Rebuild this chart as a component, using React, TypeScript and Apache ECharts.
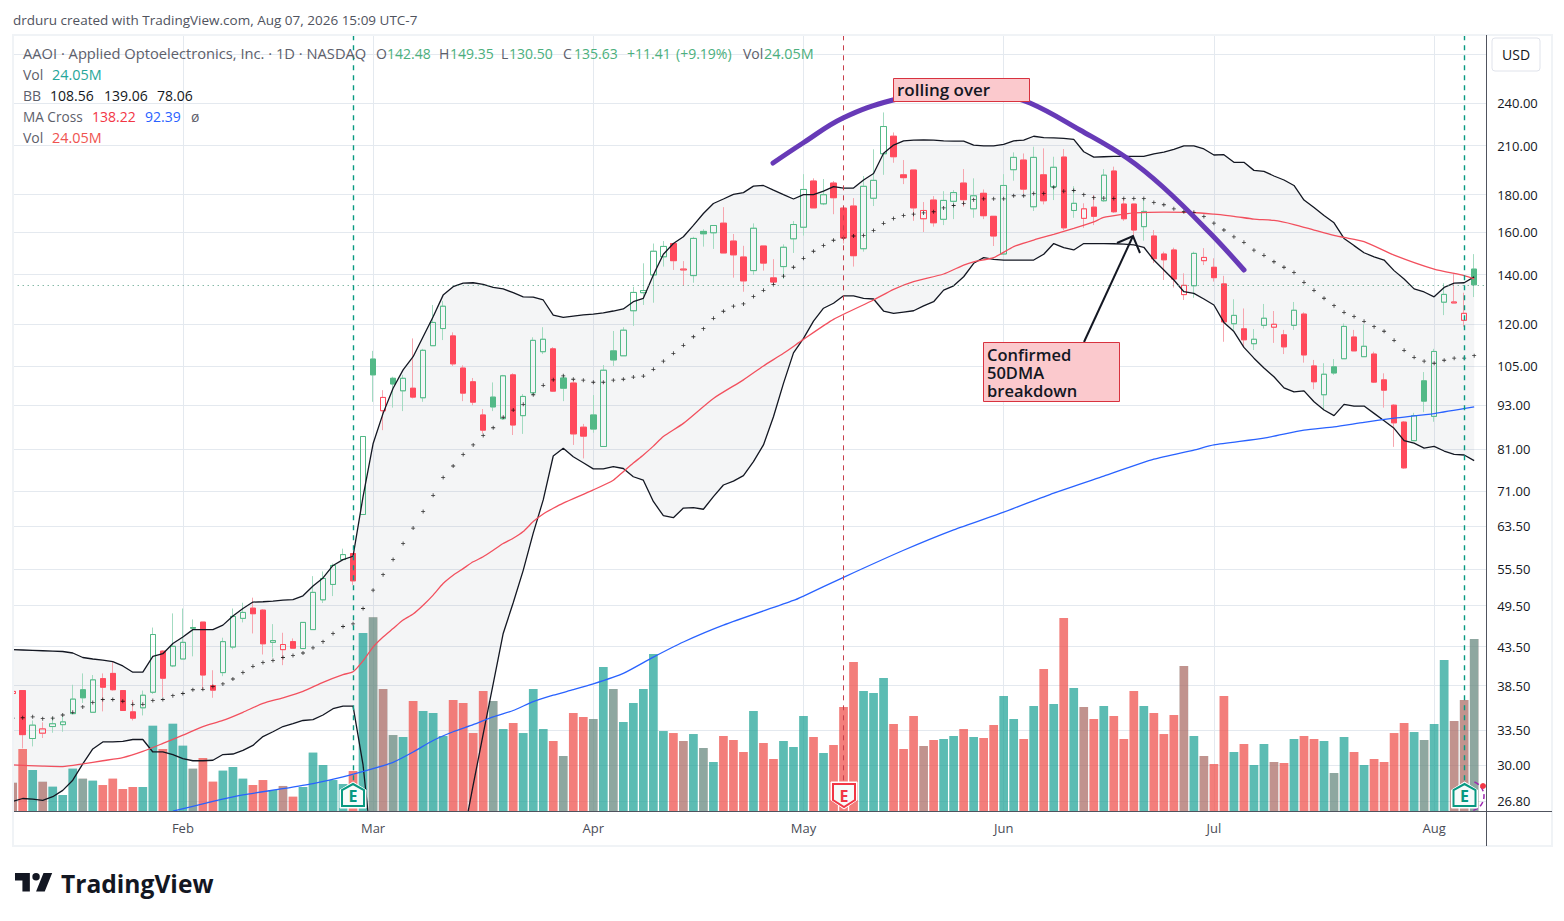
import React, { useEffect, useRef } from "react";
import * as echarts from "echarts";

const monthIdx = [17, 36, 58, 79, 99, 120, 142];
const monthNames = ["Feb", "Mar", "Apr", "May", "Jun", "Jul", "Aug"];
const priceTicks = [240, 210, 180, 160, 140, 120, 105, 93, 81, 71, 63.5, 55.5, 49.5, 43.5, 38.5, 33.5, 30, 26.8];
const hiddenGrid = [280];
const lastClose = 135.63;
const firstPrevClose = 38.5;
const earningsIdx = [34, 83, 145];

const opens = [37.55,37.9,32.6,33.15,33.85,34.05,35.25,38.0,35.4,39.35,40.0,37.9,35.45,35.9,37.7,42.9,40.95,41.85,46.2,47.0,38.5,40.1,43.45,47.55,49.1,48.8,44.1,43.1,44.2,43.25,45.9,50.4,52.9,57.2,58.3,65.9,107.4,91.3,101.1,97.2,98.0,95.1,112.0,118.2,115.5,104.4,100.0,90.1,95.3,89.05,102.2,89.9,96.6,109.9,110.9,101.2,99.6,86.7,90.1,81.6,110.2,108.5,125.0,132.3,139.9,148.1,154.4,142.1,139.6,160.4,159.7,164.6,155.6,148.0,141.8,153.2,138.6,143.6,156.7,162.5,187.9,174.9,186.7,172.6,173.7,151.9,178.0,204.7,216.3,191.6,194.5,166.9,177.0,166.6,176.3,186.7,172.2,180.8,168.2,149.4,194.7,200.7,173.3,191.6,184.5,202.6,171.3,167.1,173.1,176.6,193.9,174.8,174.8,162.8,158.1,149.4,151.3,131.5,135.2,146.3,143.3,136.0,120.0,118.1,112.7,119.4,118.7,115.9,119.4,123.7,105.1,96.0,104.8,107.5,115.1,108.2,109.1,100.6,92.9,88.1,83.1,100.3,89.7,128.4,128.1,121.3,142.48];
const closes = [37.8,33.0,34.0,33.6,34.15,34.35,36.9,37.05,39.2,38.3,38.0,35.6,34.75,37.35,45.2,39.4,43.55,44.1,46.1,39.8,37.95,44.2,47.85,48.45,48.25,43.9,44.35,43.8,43.3,46.95,51.6,53.9,56.15,58.1,53.5,84.2,102.2,95.2,99.3,101.1,95.3,110.4,120.5,126.8,105.8,96.5,93.8,85.9,92.4,101.9,87.3,95.5,113.9,114.3,97.1,98.0,84.9,84.3,86.2,103.7,107.1,117.6,132.4,133.2,150.7,153.0,146.3,142.5,156.9,159.2,163.4,149.9,149.0,137.3,162.0,145.2,136.8,152.6,163.9,183.0,172.7,180.0,178.3,157.1,148.6,184.8,188.3,223.0,202.8,189.9,172.7,171.3,164.8,176.8,181.2,177.2,179.4,168.5,158.1,185.3,202.4,183.2,202.4,176.6,196.2,162.2,175.2,172.2,168.2,191.4,170.6,166.9,161.1,170.8,147.2,146.7,138.1,135.4,149.7,147.8,138.7,120.7,123.2,114.1,114.3,122.1,119.8,111.6,125.2,108.8,100.0,102.4,102.8,119.0,110.2,111.8,99.9,97.4,87.9,76.3,89.9,94.1,110.0,131.6,128.5,124.0,135.63];
const lows = [37.2,31.6,31.8,32.65,33.2,33.3,35.25,36.45,35.4,35.5,37.9,35.6,34.5,35.05,37.5,37.15,40.8,41.85,42.2,38.0,37.05,39.65,43.15,46.95,45.35,42.45,42.05,41.05,43.3,43.25,45.9,49.9,51.0,57.2,52.8,65.8,93.9,85.9,92.2,91.2,94.9,93.9,112.0,114.0,105.1,94.1,92.9,85.0,91.2,88.7,84.6,84.9,95.9,109.1,96.9,94.1,82.0,78.6,85.2,81.6,105.1,108.5,119.2,127.3,128.2,143.6,142.1,135.2,136.5,152.9,151.8,149.9,138.7,132.7,139.9,141.8,135.5,138.1,149.9,158.3,172.7,174.2,169.3,154.4,143.6,150.5,173.7,191.6,199.0,186.1,165.8,160.1,162.8,163.6,166.7,173.3,167.4,166.7,153.2,149.0,188.1,180.7,171.0,174.6,177.0,161.1,167.4,162.2,163.6,176.0,170.0,165.8,158.6,155.8,145.2,137.7,134.5,129.3,130.2,144.3,137.0,113.4,117.7,111.7,110.5,118.2,113.0,109.1,117.7,106.2,97.7,91.5,102.2,107.5,110.2,108.2,99.6,92.2,81.5,76.1,83.1,90.9,88.2,123.3,128.1,118.9,130.5];
const highs = [38.0,37.9,34.5,34.3,34.85,34.95,38.6,40.0,39.8,40.0,41.5,37.9,36.8,37.9,46.2,43.0,48.3,49.05,47.4,47.0,40.4,44.75,49.05,49.95,50.75,48.95,46.7,45.45,44.65,46.95,54.3,55.1,56.5,59.2,58.3,84.2,110.2,97.4,101.6,102.2,114.6,110.9,127.3,128.9,116.8,105.3,101.2,91.8,99.8,102.2,102.7,96.2,115.0,118.7,111.5,102.2,100.6,87.6,95.9,105.4,117.3,118.7,134.8,145.1,154.4,155.6,154.4,146.1,157.7,161.5,163.5,173.1,159.1,153.3,164.5,153.2,147.0,154.0,165.7,192.0,189.5,189.1,187.9,172.6,178.1,190.9,207.6,233.1,218.9,200.7,194.5,175.9,179.2,182.0,182.6,195.1,189.5,183.0,168.2,192.0,205.6,204.9,209.3,208.2,202.8,207.8,184.9,175.2,179.8,195.1,196.6,177.9,174.8,177.6,161.1,150.5,152.4,140.6,150.5,152.2,147.4,139.5,129.6,125.9,118.0,127.7,124.9,117.7,128.5,124.4,107.1,106.0,107.4,120.1,117.7,119.8,109.9,102.7,93.2,88.4,90.7,103.1,110.9,136.3,140.3,132.3,149.35];
const volumes = [3.96,8.67,5.73,4.10,3.40,2.24,5.92,4.52,4.24,3.63,4.52,3.08,3.36,3.36,11.93,8.67,12.21,9.13,5.92,7.41,4.10,5.64,6.15,4.52,3.63,4.33,2.94,3.50,2.0,3.36,8.16,6.43,4.33,3.77,5.59,24.9,27.1,17.06,10.62,10.35,15.38,13.98,13.70,10.49,15.52,15.10,10.90,16.78,15.38,11.46,12.30,10.90,17.06,11.46,9.79,7.69,13.70,13.14,12.86,20.13,17.06,12.44,15.10,17.06,21.95,11.18,10.90,9.79,10.76,8.81,6.85,10.49,9.93,8.25,13.98,9.51,7.27,9.79,8.95,13.28,10.35,8.11,9.23,14.54,20.83,16.78,16.50,18.59,12.16,8.67,13.28,9.09,9.93,10.07,10.49,11.46,10.35,10.21,12.02,16.08,12.86,10.07,14.68,19.85,14.96,26.98,17.2,14.54,12.86,14.68,13.28,10.07,16.78,14.68,13.70,10.76,13.42,20.27,10.49,7.69,6.57,16.08,8.25,9.37,6.43,9.37,6.85,6.71,10.07,10.49,10.07,9.79,5.31,10.35,8.25,6.43,7.27,6.85,10.90,12.30,11.04,9.93,12.16,21.11,12.58,15.52,24.05];
const bbUpper = [43.1,43.05,43.0,42.95,42.9,42.85,42.65,42.05,41.85,41.7,41.5,40.95,40.15,40.15,42.2,42.55,43.95,44.85,45.9,45.9,45.9,46.55,47.9,49.05,50.05,50.1,50.2,50.35,50.45,51.05,52.65,54.0,56.15,57.2,57.8,69.7,82.3,90.55,98.0,103.8,108.2,115.2,122.7,131.3,134.8,136.3,136.5,135.8,134.5,133.9,132.3,130.6,130.5,129.3,123.3,122.4,122.9,123.4,123.7,124.2,124.9,125.7,128.6,130.0,139.9,149.3,154.4,157.7,163.5,169.7,175.1,177.6,180.2,181.2,184.9,185.3,182.6,180.0,177.6,180.0,180.0,182.0,184.6,183.8,183.8,188.5,192.4,205.0,210.4,213.2,213.7,213.9,213.7,213.2,213.0,213.0,210.4,209.9,209.9,210.8,213.2,213.7,216.3,215.4,215.2,214.8,214.2,206.0,202.6,202.8,203.0,203.0,203.0,203.0,204.7,205.8,207.6,209.8,209.8,207.8,203.9,204.1,199.3,199.3,194.3,193.7,190.9,188.5,185.3,177.0,172.9,168.6,164.8,156.9,153.4,150.0,148.1,146.6,141.8,138.1,133.9,132.6,130.6,134.5,136.3,136.5,139.06];
const bbBasis = [34.75,34.8,34.9,34.7,34.75,35.1,35.4,36.0,36.5,36.85,36.85,36.65,36.3,36.3,36.75,36.85,37.3,37.55,38.0,38.05,38.4,38.7,39.3,40.1,40.9,41.4,41.65,42.05,42.3,42.65,43.35,44.2,45.35,46.35,46.75,49.05,51.95,54.55,57.2,60.15,63.15,66.5,70.0,74.05,76.75,79.6,82.0,84.45,86.55,89.45,91.5,93.15,96.0,98.9,100.6,101.9,100.8,100.5,99.85,99.85,100.5,100.8,101.5,101.8,104.0,106.7,109.35,112.15,115.2,118.15,122.05,124.8,126.8,127.7,130.75,133.3,135.8,139.4,143.3,147.4,150.7,153.5,156.0,157.1,158.1,158.4,160.9,164.5,167.0,168.6,169.3,170.0,170.6,172.7,174.0,175.2,177.2,177.7,177.7,177.7,179.4,179.4,180.7,180.7,184.3,182.0,182.4,180.0,178.3,178.1,177.9,177.9,177.9,177.9,175.7,174.4,172.2,170.6,170.3,168.1,164.6,161.1,157.7,155.0,151.2,148.8,145.8,143.3,141.0,136.7,133.3,130.0,127.0,124.4,122.8,120.9,118.9,117.2,113.9,110.4,108.0,106.7,106.0,107.0,107.7,107.7,108.56];
const bbLower = [26.75,27.0,26.95,26.85,27.15,27.7,28.6,30.1,31.55,32.25,32.25,32.3,32.5,32.5,31.25,31.25,31.0,30.6,30.4,30.4,30.45,31.0,31.05,31.4,31.9,32.8,33.3,33.85,34.15,34.5,34.6,35.1,35.8,36.1,36.1,30.0,22.2,19.3,17.3,16.2,15.5,15.5,16.2,18.1,20.4,23.9,28.15,33.05,38.7,45.35,49.95,55.3,62.15,69.0,79.2,81.15,79.0,77.55,76.05,76.05,76.6,76.15,74.2,73.4,68.65,65.65,65.25,67.25,67.35,67.0,69.7,72.3,73.2,74.45,77.8,82.0,89.6,99.5,109.5,114.6,121.0,126.0,128.0,131.0,131.0,130.0,129.7,124.9,124.0,124.5,125.0,126.9,128.6,133.4,135.2,139.1,145.1,147.7,146.9,146.6,146.6,146.6,146.6,149.3,154.4,152.4,151.3,154.4,154.4,154.4,154.3,154.1,153.7,152.6,146.6,142.1,137.7,132.7,132.0,129.7,127.3,120.5,117.1,111.4,107.7,104.4,101.6,98.1,96.9,97.2,93.9,91.5,89.9,93.15,92.65,92.65,90.55,88.5,86.4,83.1,82.45,81.2,81.65,80.45,79.6,79.45,78.06];
const ma50Points = [[0,30.0],[3,29.9],[5,29.85],[7,30.1],[9,30.4],[11,30.7],[13,31.3],[15,32.1],[17,32.95],[19,33.85],[21,34.5],[23,35.4],[25,36.4],[27,37.05],[29,37.8],[31,38.9],[33,39.85],[34,40.2],[35,41.6],[36,43.45],[37,44.85],[38,46.05],[39,47.3],[40,48.2],[41,49.55],[42,51.15],[43,53.05],[44,54.45],[45,55.6],[46,56.8],[47,57.7],[48,58.9],[49,60.15],[50,61.15],[51,62.45],[52,64.45],[53,66.0],[54,67.2],[55,68.3],[58,71.2],[60,73.4],[61,75.4],[62,77.45],[63,79.45],[64,81.7],[65,84.2],[67,87.75],[70,94.9],[73,100.6],[75,105.1],[77,109.35],[79,114.25],[82,121.65],[86,129.3],[88,133.7],[90,137.0],[93,140.3],[95,144.3],[96,145.8],[98,147.7],[100,152.9],[102,156.1],[104,158.9],[106,161.9],[108,165.3],[109,167.6],[111,169.3],[112,170.0],[115,170.4],[118,170.2],[120,169.3],[122,168.2],[124,166.7],[126,166.0],[128,163.9],[130,161.1],[132,158.4],[133,157.4],[135,155.3],[138,148.9],[142,142.5],[145,139.6],[146,138.22]];
const ma200Points = [[16,25.95],[20,26.75],[23,27.3],[27,27.85],[30,28.3],[33,28.9],[36,29.65],[38,30.25],[40,31.25],[42,32.4],[44,33.3],[46,34.05],[48,34.9],[50,35.6],[52,36.6],[54,37.35],[56,38.0],[58,38.7],[61,40.0],[64,42.1],[67,44.15],[71,46.55],[78,50.3],[79,51.0],[83,54.1],[89,58.9],[94,62.8],[99,66.4],[104,70.5],[109,74.35],[114,78.4],[118,80.7],[120,82.0],[125,83.75],[129,85.9],[132,86.8],[135,88.05],[138,89.2],[142,90.5],[146,92.39]];

const creditLine = "drduru created with TradingView.com, Aug 07, 2026 15:09 UTC-7";
const headerTitle = "AAOI · Applied Optoelectronics, Inc. · 1D · NASDAQ";
const ohlcLabels = ["O", "H", "L", "C"];
const ohlcValues = ["142.48", "149.35", "130.50", "135.63"];
const changeText = ["+11.41", "(+9.19%)"];
const volText = "24.05M";
const bbText = ["108.56", "139.06", "78.06"];
const maText = ["138.22", "92.39"];
const noteRolling = "rolling over";
const noteBreakdown = "Confirmed\n50DMA\nbreakdown";

const FONT = "'Open Sans', 'Noto Sans', sans-serif";
const COUNT = 148;
const GREEN = "#53b987";
const RED = "#ff4a5c";
const GREEN_WICK = "#a3dbc1";
const RED_WICK = "#f6a6af";
const VOL_UP = "#26a69a";
const VOL_DOWN = "#ef5350";
const GRID_LINE = "#e4e9ef";

const categories = Array.from({ length: COUNT }, (_, i) => {
  const m = monthIdx.indexOf(i);
  return m >= 0 ? monthNames[m] : `d${i}`;
});

const isUpDay = (i: number) => closes[i] > (i === 0 ? firstPrevClose : closes[i - 1]);
const candleColor = (i: number) => (isUpDay(i) ? GREEN : RED);

const candleData = (kind: "wick" | "body") =>
  opens.map((o, i) => {
    const c = closes[i];
    const body = candleColor(i);
    const hollow = c > o;
    const fill = kind === "wick" ? "transparent" : hollow ? "transparent" : body;
    const stroke = kind === "wick" ? (isUpDay(i) ? GREEN_WICK : RED_WICK) : body;
    const lo = kind === "wick" ? lows[i] : Math.min(o, c);
    const hi = kind === "wick" ? highs[i] : Math.max(o, c);
    return {
      value: [o, c, lo, hi],
      itemStyle: {
        color: fill,
        color0: fill,
        borderColor: stroke,
        borderColor0: stroke,
        borderColorDoji: stroke,
        borderWidth: 1,
      },
    };
  });

const T = (text: string, x: number, y: number, fill: string, size = 14, weight = "normal", z = 70) => ({
  type: "text",
  x,
  y,
  z,
  silent: true,
  style: { text, fill, font: `${weight} ${size}px ${FONT}`, verticalAlign: "middle", align: "left" },
});

const housePoints = (cx: number, down: boolean, grow: number) => {
  const l = cx - 11 - grow;
  const r = cx + 11 + grow;
  if (down) {
    const t = 784 - grow;
    const s = 800;
    const b = 807 + grow;
    return [[l, t], [r, t], [r, s], [cx, b], [l, s]];
  }
  const t = 784 - grow;
  const s = 790;
  const b = 806 + grow;
  return [[cx, t], [r, s], [r, b], [l, b], [l, s]];
};

const badge = (cx: number, down: boolean, color: string) => [
  { type: "polygon", z: 60, silent: true, shape: { points: housePoints(cx, down, 2) }, style: { fill: "#ffffff", stroke: "#ffffff" } },
  { type: "polygon", z: 61, silent: true, shape: { points: housePoints(cx, down, 0) }, style: { fill: "#f6fbfa", stroke: color, lineWidth: 2 } },
  {
    type: "text", x: cx, y: 796, z: 62, silent: true,
    style: { text: "E", fill: color, font: `bold 16px ${FONT}`, align: "center", verticalAlign: "middle" },
  },
];

const buildGraphics = () => {
  const els: any[] = [
    { type: "rect", z: 50, silent: true, shape: { x: 0, y: 30, width: 13.5, height: 790 }, style: { fill: "#ffffff" } },
    { type: "rect", z: 50, silent: true, shape: { x: 1487, y: 30, width: 4, height: 790 }, style: { fill: "#ffffff" } },
    { type: "rect", z: 51, silent: true, shape: { x: 13, y: 35, width: 1539, height: 811 }, style: { fill: "transparent", stroke: "#f0f3f6", lineWidth: 2 } },
    { type: "line", z: 52, silent: true, shape: { x1: 1486.5, y1: 35, x2: 1486.5, y2: 846 }, style: { stroke: "#50535e", lineWidth: 1 } },
    { type: "line", z: 52, silent: true, shape: { x1: 14, y1: 811.5, x2: 1552, y2: 811.5 }, style: { stroke: "#50535e", lineWidth: 1 } },
    { type: "rect", z: 52, silent: true, shape: { x: 1492, y: 38, width: 48, height: 33, r: 3 }, style: { fill: "#ffffff", stroke: "#e0e3eb", lineWidth: 1 } },
    T("USD", 1502, 54, "#131722", 14),
    T(creditLine, 13, 20, "#50535e", 13.5),
    T(headerTitle, 23, 53, "#5d606b", 14.7),
  ];
  const ohlcX = [376, 439, 501, 563];
  ohlcLabels.forEach((l, i) => {
    els.push(T(l, ohlcX[i], 53, "#5d606b", 14));
    els.push(T(ohlcValues[i], ohlcX[i] + (l === "L" ? 8 : 11), 53, "#4caf7d", 14));
  });
  els.push(T(changeText[0], 627, 53, "#4caf7d", 14), T(changeText[1], 676, 53, "#4caf7d", 14));
  els.push(T("Vol", 743, 53, "#5d606b", 14));
  els.push(T(volText, 764, 53, "#4caf7d", 14.4));
  els.push(T("Vol", 23, 74, "#5d606b", 14), T(volText, 52, 74, "#26a69a", 14.4));
  els.push(T("BB", 23, 95, "#5d606b", 14), T(bbText[0], 50, 95, "#131722", 14), T(bbText[1], 104, 95, "#131722", 14), T(bbText[2], 157, 95, "#131722", 14));
  els.push(T("MA Cross", 23, 116, "#5d606b", 13.6), T(maText[0], 92, 116, "#f23645", 14), T(maText[1], 145, 116, "#2962ff", 14), T("ø", 191, 116, "#5d606b", 14));
  els.push(T("Vol", 23, 137, "#5d606b", 14), T(volText, 52, 137, "#ef5350", 14.4));

  // rolling-over curve, labels, arrow
  els.push({
    type: "polyline", z: 63, silent: true,
    shape: {
      points: [[773, 163], [803, 143], [843, 118], [893, 100], [950, 90], [1000, 95], [1030, 103], [1080, 130], [1127, 158], [1163, 187], [1210, 233], [1244, 270]],
      smooth: 0.4,
    },
    style: { stroke: "#673ab7", lineWidth: 5, fill: "none", lineCap: "round" },
  });
  els.push({ type: "rect", z: 64, silent: true, shape: { x: 893.5, y: 78.5, width: 136, height: 23 }, style: { fill: "#fbc9cd", stroke: "#d8323f", lineWidth: 1 } });
  els.push(T(noteRolling, 897, 89, "#131722", 17, "600", 65));
  els.push({ type: "rect", z: 64, silent: true, shape: { x: 983.5, y: 342.5, width: 136, height: 59 }, style: { fill: "#fbc9cd", stroke: "#d8323f", lineWidth: 1 } });
  els.push({
    type: "text", x: 987, y: 346, z: 65, silent: true,
    style: { text: noteBreakdown, fill: "#131722", font: `600 16.5px ${FONT}`, lineHeight: 17.6, verticalAlign: "top", align: "left" },
  });
  els.push({ type: "polyline", z: 63, silent: true, shape: { points: [[1084, 342], [1133, 236]] }, style: { stroke: "#131722", lineWidth: 2, fill: "none" } });
  els.push({ type: "polyline", z: 63, silent: true, shape: { points: [[1117, 243], [1133, 236], [1140, 253]] }, style: { stroke: "#131722", lineWidth: 2, fill: "none" } });

  // earnings badges
  els.push(...badge(353, false, "#089981"), ...badge(844, true, "#f23645"), ...badge(1464.5, false, "#089981"));
  els.push({
    type: "arc", z: 59, silent: true,
    shape: { cx: 1469, cy: 796, r: 15, startAngle: -1.2, endAngle: 1.3 },
    style: { stroke: "#9c27b0", lineWidth: 1.5, lineDash: [5, 3], fill: "none" },
  });
  els.push({ type: "circle", z: 62, silent: true, shape: { cx: 1483, cy: 786, r: 3 }, style: { fill: "#f23645" } });

  // brand
  els.push({
    type: "tvLogo", x: 12.5, y: 865.5, scaleX: 1.24, scaleY: 1.24, z: 70, silent: true,
    style: { fill: "#131722" },
  });
  els.push(T("TradingView", 61, 883, "#131722", 24.6, "700"));
  return els;
};

export default function App() {
  const ref = useRef<HTMLDivElement>(null);
  useEffect(() => {
    echarts.graphic.registerShape(
      "tvLogo",
      echarts.graphic.extendPath("M14 6H2v6h6v9h6V6Zm12 15h-7l6-15h7l-6 15Zm-7-9a3 3 0 1 0 0-6 3 3 0 0 0 0 6Z", {}) as any
    );
    const chart = echarts.init(ref.current!, undefined, { renderer: "svg" });

    const gridLines = [
      ...priceTicks.map((v) => ({
        yAxis: v,
        lineStyle: { color: GRID_LINE, width: 1, type: "solid" },
        label: {
          show: true, position: "end", distance: 8, color: "#131722", fontSize: 13, fontFamily: FONT,
          formatter: () => v.toFixed(2),
        },
      })),
      ...hiddenGrid.map((v) => ({ yAxis: v, lineStyle: { color: GRID_LINE, width: 1, type: "solid" }, label: { show: false } })),
      ...monthIdx.map((i) => ({ xAxis: i, lineStyle: { color: GRID_LINE, width: 1, type: "solid" }, label: { show: false } })),
    ];

    const dashed = earningsIdx.map((i, k) => [
      {
        xAxis: i, yAxis: 297,
        lineStyle: { color: k === 1 ? "#c8404c" : "#089981", width: k === 1 ? 1 : 1.4, type: [5, 5] as any },
        label: { show: false },
      },
      { xAxis: i, yAxis: 28.5 },
    ]);

    chart.setOption({
      animation: false,
      backgroundColor: "#ffffff",
      textStyle: { fontFamily: FONT },
      grid: { left: 7.7, top: 35, width: 10.01 * COUNT, height: 776, containLabel: false },
      xAxis: {
        type: "category",
        data: categories,
        boundaryGap: true,
        axisLine: { show: false },
        axisTick: { show: false },
        splitLine: { show: false },
        axisLabel: {
          interval: (i: number) => monthIdx.includes(i),
          color: "#4a4d57",
          fontSize: 13,
          fontFamily: FONT,
          margin: 10,
        },
      },
      yAxis: [
        {
          type: "log", logBase: 10, min: 25.96, max: 297.3,
          axisLine: { show: false }, axisTick: { show: false }, axisLabel: { show: false }, splitLine: { show: false },
        },
        {
          type: "value", min: 0, max: 108.5, show: false, splitLine: { show: false },
        },
      ],
      graphic: { elements: buildGraphics() },
      series: [
        {
          name: "grid", type: "line", data: [], z: 0, silent: true,
          markLine: { silent: true, symbol: "none", z: 0, animation: false, precision: 2, data: gridLines },
        },
        {
          name: "BB fill", type: "custom", z: 1, silent: true, clip: true,
          data: [[0, 100]],
          renderItem: (_p: any, api: any) => {
            const pts: number[][] = [];
            bbUpper.forEach((v, i) => pts.push(api.coord([i, v])));
            for (let i = bbLower.length - 1; i >= 0; i--) pts.push(api.coord([i, bbLower[i]]));
            return { type: "polygon", shape: { points: pts }, style: { fill: "rgba(120,130,134,0.08)" }, silent: true };
          },
        },
        {
          name: "Vol close-open", type: "bar", yAxisIndex: 1, barWidth: 8.6, barGap: "-100%", z: 2, silent: true,
          data: volumes.map((v, i) => ({
            value: v,
            itemStyle: { color: closes[i] > opens[i] ? VOL_UP : VOL_DOWN, opacity: 0.5 },
          })),
        },
        {
          name: "Vol prev-close", type: "bar", yAxisIndex: 1, barWidth: 8.6, barGap: "-100%", z: 2, silent: true,
          data: volumes.map((v, i) => ({
            value: v,
            itemStyle: { color: isUpDay(i) ? VOL_UP : VOL_DOWN, opacity: 0.5 },
          })),
        },
        {
          name: "wicks", type: "candlestick", barWidth: 6, z: 3, silent: true, data: candleData("wick"),
        },
        {
          name: "bodies", type: "candlestick", barWidth: 6, z: 3, silent: true, data: candleData("body"),
        },
        {
          name: "BB upper", type: "line", data: bbUpper, symbol: "none", z: 4, silent: true,
          lineStyle: { color: "#131722", width: 1.3 },
        },
        {
          name: "BB lower", type: "line", data: bbLower, symbol: "none", z: 4, silent: true,
          lineStyle: { color: "#131722", width: 1.3 },
        },
        {
          name: "BB basis", type: "scatter", data: bbBasis, z: 4, silent: true,
          symbol: "path://M4 0h2v4h4v2H6v4H4V6H0V4h4z", symbolSize: 4,
          itemStyle: { color: "#000000" },
        },
        {
          name: "MA50", type: "line", data: ma50Points, symbol: "none", z: 4, silent: true, smooth: 0.2,
          lineStyle: { color: "#f2505e", width: 1.3 },
        },
        {
          name: "MA200", type: "line", data: ma200Points, symbol: "none", z: 4, silent: true, smooth: 0.2,
          lineStyle: { color: "#2962ff", width: 1.3 },
        },
        {
          name: "levels", type: "line", data: [], z: 5, silent: true,
          markLine: {
            silent: true, symbol: "none", z: 5, animation: false,
            data: [
              { yAxis: lastClose, lineStyle: { color: "#4c9a7f", width: 1, type: [1, 4] as any }, label: { show: false } },
              ...dashed,
            ],
          },
        },
      ],
    });
    return () => chart.dispose();
  }, []);
  return (
    <div
      ref={ref}
      style={{ position: "fixed", left: 0, top: 0, width: 1564, height: 921, background: "#fff" }}
    />
  );
}
